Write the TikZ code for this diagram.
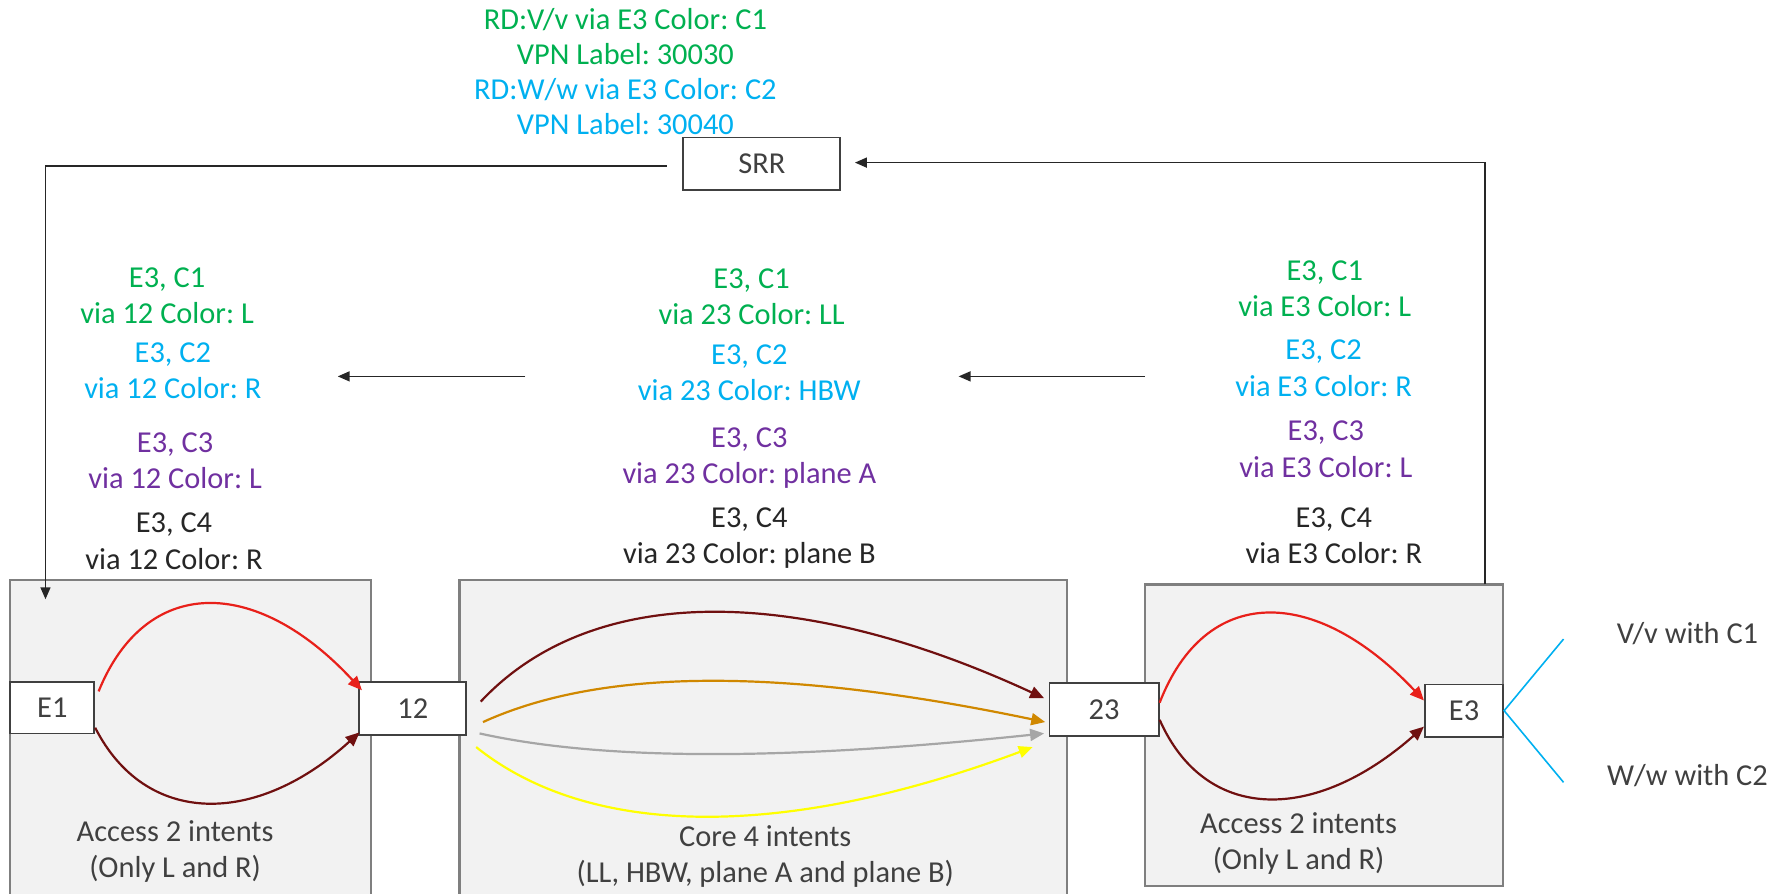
\documentclass[tikz,border=0pt]{standalone}
\usepackage{fontspec}
\setmainfont{Carlito}
\frenchspacing
\usetikzlibrary{arrows.meta,calc}
\definecolor{tgreen}{HTML}{00B050}
\definecolor{tcyan}{HTML}{00B0F0}
\definecolor{tpurple}{HTML}{7030A0}
\definecolor{tdark}{HTML}{262626}
\definecolor{tgray}{HTML}{404040}
\definecolor{cred}{HTML}{E8201A}
\definecolor{cdred}{HTML}{701010}
\definecolor{corange}{HTML}{D08800}
\definecolor{cgray}{HTML}{A6A6A6}
\definecolor{cyellow}{HTML}{FFFF00}
\definecolor{boxfill}{HTML}{F2F2F2}
\definecolor{boxdraw}{HTML}{7F7F7F}
\begin{document}
\begin{tikzpicture}[x=0.5686pt,y=-0.5686pt,
  txt/.style={font=\fontsize{15.2}{18.2}\selectfont, align=center, inner sep=0pt},
  dev/.style={draw=tgray, line width=0.9pt, fill=white, inner sep=0pt, text=tgray,
    font=\fontsize{15.2}{18.2}\selectfont},
  area/.style={fill=boxfill, draw=boxdraw, line width=1.1pt},
  conn/.style={draw=tdark, line width=0.8pt},
  tip/.style={-{Triangle[length=6pt,width=5pt]}},
  curve/.style={line width=1.1pt, -{Triangle[length=7pt,width=6pt]}}]
\clip (0,0) rectangle (1568,786);
\useasboundingbox (0,0) rectangle (1568,786);

% areas
\fill[boxfill] (9,510) rectangle (326,800);
\draw[boxdraw, line width=1.1pt] (9,800) -- (9,510) -- (326,510) -- (326,800);
\fill[boxfill] (404,510) rectangle (938,800);
\draw[boxdraw, line width=1.1pt] (404,800) -- (404,510) -- (938,510) -- (938,800);
\draw[area] (1007,514) rectangle (1322,779);

% devices
\node[dev, minimum width=78.5pt, minimum height=26.2pt] (SRR) at (670,144) {SRR};
\node[dev, minimum width=42pt, minimum height=25.6pt] (E1) at (46,622.5) {E1};
\node[dev, minimum width=53.4pt, minimum height=26.2pt] (n12) at (363,623) {12};
\node[dev, minimum width=54.6pt, minimum height=26.2pt] (n23) at (971,624) {23};
\node[dev, minimum width=39.2pt, minimum height=26.2pt] (E3) at (1287.5,625) {E3};

% access left curves
\draw[curve, cred] ($(E1.east)+(3,-14.5)$) .. controls (128,506) and (225,506) .. ($(n12.west)+(3,-16)$);
\draw[curve, cdred] ($(E1.east)+(0,17.5)$) .. controls (128,727) and (225,727) .. ($(n12.west)+(1,21)$);

% core curves
\draw[curve, cdred] ($(n12.east)+(12,-6)$) .. controls (520,513) and (700,513) .. ($(n23.west)+(-4,-10)$);
\draw[curve, corange] ($(n12.east)+(14,12)$) .. controls (530,587) and (690,587) .. ($(n23.west)+(-3,11)$);
\draw[curve, cgray] ($(n12.east)+(11,22)$) .. controls (530,669) and (690,669) .. ($(n23.west)+(-4,21)$);
\draw[curve, cyellow] ($(n12.east)+(8,34)$) .. controls (520,738) and (691,738) .. ($(n23.west)+(-14,33)$);

% access right curves
\draw[curve, cred] ($(n23.east)+(0,-6)$) .. controls (1060,514) and (1156,514) .. ($(E3.west)+(0,-9)$);
\draw[curve, cdred] ($(n23.east)+(0,9)$) .. controls (1060,724) and (1156,724) .. ($(E3.west)+(0,14)$);

% E3 branches
\coordinate (vv) at (1375,562);
\coordinate (ww) at (1375,688);
\draw[tcyan, line width=0.8pt] (vv) -- (E3.east) -- (ww);
\node[txt, text=tgray] (lvv) at (1484,557) {V/v with C1};
\node[txt, text=tgray] (lww) at (1484,682) {W/w with C2};

% SRR connectors
\coordinate (accLin) at (40,527);
\coordinate (accRtop) at (1306,514);
\draw[conn, tip] ($(SRR.west)+(-14,2)$) -| (accLin);
\draw[conn, tip] (accRtop) |- ($(SRR.east)+(12,-1)$);

% horizontal arrows
\coordinate (aLs) at (462,331);
\coordinate (aLe) at (297,331);
\coordinate (aRs) at (1007,331);
\coordinate (aRe) at (843,331);
\draw[conn, tip] (aLs) -- (aLe);
\draw[conn, tip] (aRs) -- (aRe);

% top text
\node[txt, font=\fontsize{15.2}{17.5}\selectfont] (top) at (550,63)
 {\textcolor{tgreen}{RD:V/v via E3 Color: C1}\\
  \textcolor{tgreen}{VPN Label: 30030}\\
  \textcolor{tcyan}{RD:W/w via E3 Color: C2}\\
  \textcolor{tcyan}{VPN Label: 30040}};

% left texts
\node[txt, text=tgreen] (l1) at (147,260) {E3, C1\\via 12 Color: L};
\node[txt, text=tcyan] (l2) at (152,326) {E3, C2\\via 12 Color: R};
\node[txt, text=tpurple] (l3) at (154,405) {E3, C3\\via 12 Color: L};
\node[txt, text=tdark] (l4) at (153,476) {E3, C4\\via 12 Color: R};

% middle texts
\node[txt, text=tgreen] (m1) at (661,261) {E3, C1\\via 23 Color: LL};
\node[txt, text=tcyan] (m2) at (659,328) {E3, C2\\via 23 Color: HBW};
\node[txt, text=tpurple] (m3) at (659,403) {E3, C3\\via 23 Color: plane A};
\node[txt, text=tdark] (m4) at (659,473) {E3, C4\\via 23 Color: plane B};

% right texts
\node[txt, text=tgreen] (r1) at (1165,254) {E3, C1\\via E3 Color: L};
\node[txt, text=tcyan] (r2) at (1164,324) {E3, C2\\via E3 Color: R};
\node[txt, text=tpurple] (r3) at (1166,395) {E3, C3\\via E3 Color: L};
\node[txt, text=tdark] (r4) at (1173,471) {E3, C4\\via E3 Color: R};

% area labels
\node[txt, text=tgray] (labL) at (154,749) {Access 2 intents\\(Only L and R)};
\node[txt, text=tgray] (labC) at (673,753) {Core 4 intents\\(LL, HBW, plane A and plane B)};
\node[txt, text=tgray] (labR) at (1142,742) {Access 2 intents\\(Only L and R)};
\end{tikzpicture}
\end{document}
